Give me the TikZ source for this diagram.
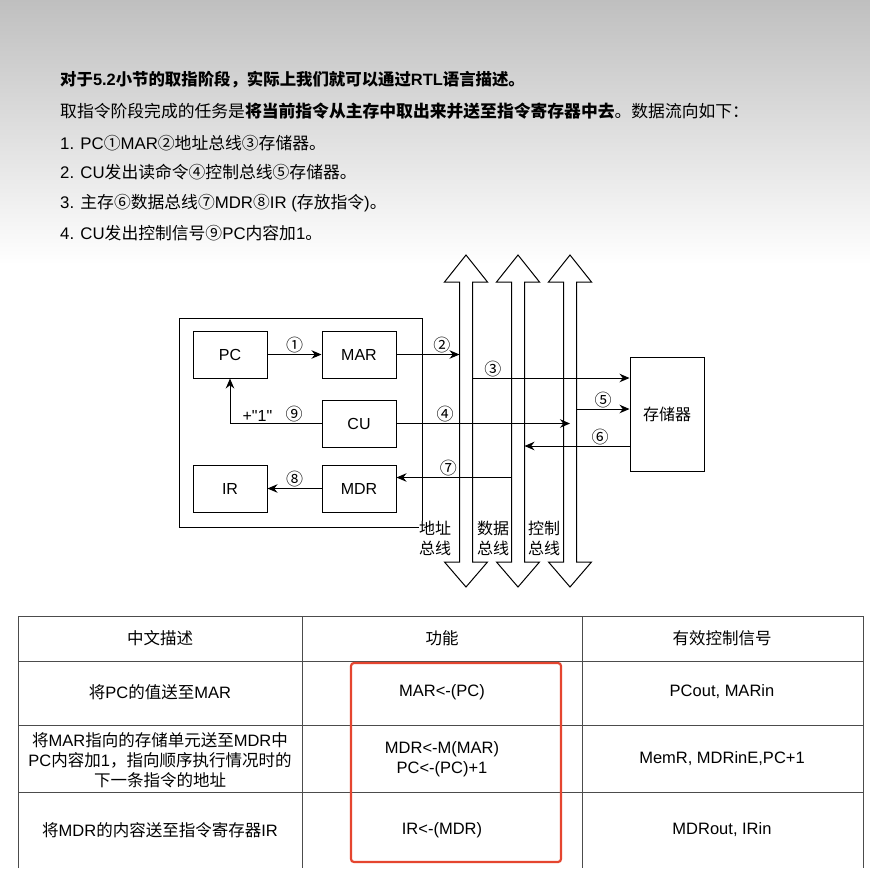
\documentclass[tikz,border=0pt]{standalone}
\usepackage{fontspec}
\setmainfont{Liberation Sans}
\newfontfamily\rawfont{Liberation Sans}
\newfontfamily\cjkfont{Noto Sans CJK SC}
\usetikzlibrary{arrows.meta,positioning}
\definecolor{hilite}{HTML}{E5452F}

% switch to the CJK font for Chinese characters
\XeTeXinterchartokenstate=1
\newXeTeXintercharclass\cjkclass
\newcount\cjkcode
\def\cjkrange#1#2{\cjkcode=#1\relax
  \loop\XeTeXcharclass\cjkcode=\cjkclass\relax
  \advance\cjkcode by 1\relax
  \ifnum\cjkcode<#2\repeat}
\cjkrange{"2460}{"2500}
\cjkrange{"3000}{"3040}
\cjkrange{"4E00}{"A000}
\cjkrange{"FF00}{"FFF0}
\XeTeXinterchartoks 0 \cjkclass = {\begingroup\cjkfont}
\XeTeXinterchartoks 4095 \cjkclass = {\begingroup\cjkfont}
\XeTeXinterchartoks \cjkclass 0 = {\endgroup}
\XeTeXinterchartoks \cjkclass 4095 = {\endgroup}

\begin{document}
\begin{tikzpicture}[
    x=1pt, y=-1pt,
    every node/.style={font=\fontsize{16}{20}\selectfont, align=center},
    para/.style={anchor=west, inner sep=0pt, font=\fontsize{16.8}{20}\selectfont},
    reg/.style={draw, line width=1pt, minimum width=74pt, minimum height=47pt},
    num/.style={font=\fontsize{17}{19}\selectfont, inner sep=1pt},
    line/.style={-{Stealth[length=10pt,width=8.5pt]}, line width=1pt},
    bus/.style={draw, line width=1pt},
    buslabel/.style={fill=white, inner sep=0pt},
    grid/.style={draw=black!70, line width=0.8pt},
    cell/.style={font=\fontsize{16.5}{20}\selectfont}
]
\useasboundingbox (0,0) rectangle (870,868);
\fill[white] (0,0) rectangle (870,868);
\shade[top color=black!25, bottom color=white] (0,0) rectangle (870,265);

% text above the figure
\node[para, font=\bfseries\fontsize{16.4}{20}\selectfont] (t1) at (60,80) {对于5.2小节的取指阶段，实际上我们就可以通过RTL语言描述。};
\node[para] (t2) at (60,111) {取指令阶段完成的任务是\textbf{将当前指令从主存中取出来并送至指令寄存器中去}。数据流向如下：};
\node[para] (t3) at (60,143) {1. PC①MAR②地址总线③存储器。};
\node[para] (t4) at (60,172) {2. CU发出读命令④控制总线⑤存储器。};
\node[para] (t5) at (60,203) {3. 主存⑥数据总线⑦MDR⑧IR (存放指令)。};
\node[para] (t6) at (60,233) {4. CU发出控制信号⑨PC内容加1。};

% CPU
\node[draw, line width=1pt, minimum width=243pt, minimum height=209pt] (cpu) at (300.5,422.5) {};
\node[reg] (PC) at (230,354.5) {PC};
\node[reg, right=54pt of PC] (MAR) {MAR};
\node[reg, below=21pt of MAR] (CU) {CU};
\node[reg, below=17pt of CU] (MDR) {MDR};
\node[reg, left=54pt of MDR] (IR) {IR};
\node[reg, minimum height=114pt] (mem) at (667,414) {存储器};

% buses
\foreach \bx/\bn in {466/abus, 518/dbus, 570/cbus} {
  \draw[bus] (\bx,255) -- ++(21.5,27) -- ++(-15,0) -- (\bx+6.5,562) -- ++(15,0)
    -- (\bx,587) -- ++(-21.5,-25) -- ++(15,0) -- (\bx-6.5,282) -- ++(-15,0) -- cycle;
  \coordinate (\bn) at (\bx,422);
  \coordinate (\bn-l) at (\bx-6.5,422);
  \coordinate (\bn-r) at (\bx+6.5,422);
}
\node[buslabel] (alab) at (435,538) {地址\\总线};
\node[buslabel] (dlab) at (493,538) {数据\\总线};
\node[buslabel] (clab) at (544,538) {控制\\总线};

\coordinate (m3) at ([yshift=36pt]mem.west);
\coordinate (m5) at ([yshift=5pt]mem.west);
\coordinate (m6) at ([yshift=-32pt]mem.west);
\coordinate (d7) at ([yshift=11pt]MDR.east);

\draw[line] (PC) -- node[num, above]{①} (MAR);
\draw[line] (MAR) -- node[num, pos=0.72, above]{②} (MAR -| abus-l);
\draw[line] (m3 -| abus-r) -- node[num, pos=0.13, above]{③} (m3);
\draw[line] (CU) -- node[num, pos=0.28, above]{④} (CU -| cbus);
\draw[line] (m5 -| cbus-r) -- node[num, above]{⑤} (m5);
\draw[line] (m6) -- node[num, pos=0.28, above]{⑥} (m6 -| dbus-r);
\draw[line] (d7 -| dbus-l) -- node[num, pos=0.55, above]{⑦} (d7);
\draw[line] (MDR) -- node[num, above]{⑧} (IR);
\draw[line] (CU) -| node[num, pos=0.15, above]{⑨} node[pos=0.35, above, inner sep=2pt]{\rawfont +"1"} (PC);

% table
\draw[grid] (18,868) -- (18,616) -- (863,616) -- (863,868);
\foreach \ry in {661,725,792} \draw[grid] (18,\ry) -- (863,\ry);
\foreach \cx in {302,582} \draw[grid] (\cx,616) -- (\cx,868);

\node[cell] (h1) at (160,638) {中文描述};
\node[cell] (h2) at (442,638) {功能};
\node[cell] (h3) at (722,638) {有效控制信号};
\node[cell] (a1) at (160,692) {将PC的值送至MAR};
\node[cell] (b1) at (442,692) {MAR<-(PC)};
\node[cell] (c1) at (722,692) {PCout, MARin};
\node[cell] (a2) at (160,760) {将MAR指向的存储单元送至MDR中\\PC内容加1，指向顺序执行情况时的\\下一条指令的地址};
\node[cell] (b2) at (442,759) {MDR<-M(MAR)\\PC<-(PC)+1};
\node[cell] (c2) at (722,759) {MemR, MDRinE,PC+1};
\node[cell] (a3) at (160,830) {将MDR的内容送至指令寄存器IR};
\node[cell] (b3) at (442,830) {IR<-(MDR)};
\node[cell] (c3) at (722,830) {MDRout, IRin};

\draw[hilite, line width=2.2pt, rounded corners=3pt] (351,663) rectangle (561,862);
\end{tikzpicture}
\end{document}
